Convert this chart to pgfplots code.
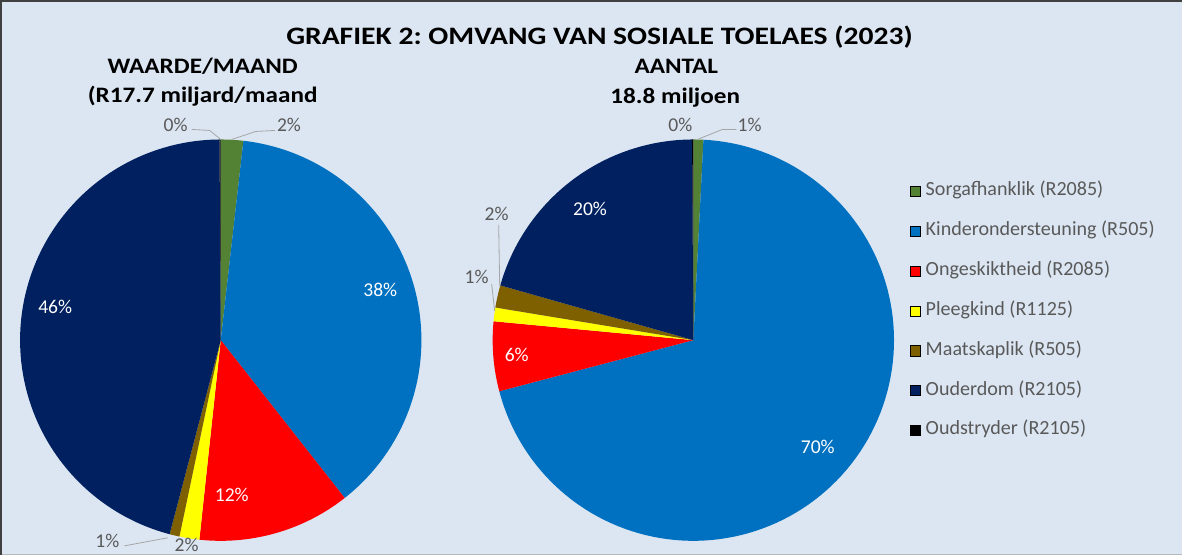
\documentclass[border=0pt]{standalone}
\usepackage{pgfplots}
\pgfplotsset{compat=1.18}
\usepackage{fontspec}
\setmainfont{Carlito}
\newfontfamily\titlefont[FakeStretch=1.18]{Carlito}
\newfontfamily\subfont[FakeStretch=1.14]{Carlito}

\definecolor{bg}{HTML}{DCE6F2}
\definecolor{cSorg}{HTML}{548235}
\definecolor{cKind}{HTML}{0070C0}
\definecolor{cOng}{HTML}{FF0000}
\definecolor{cPleeg}{HTML}{FFFF00}
\definecolor{cMaat}{HTML}{7F6000}
\definecolor{cOud}{HTML}{002060}
\definecolor{cStry}{HTML}{000000}
\definecolor{lbl}{HTML}{595959}
\definecolor{lead}{HTML}{A6A6A6}

\pgfplotsset{sq legend/.style={legend image code/.code={\fill[##1] (0pt,-5pt) rectangle (10pt,5pt);}}}

% pie slice: centre x, centre y, share in %, colour (radius 200)
\newcommand\cum{0}
\newcommand\slice[4]{%
  \pgfmathsetmacro\sliceA{\cum*3.6}%
  \pgfmathsetmacro\sliceSum{\cum+#3}%
  \pgfmathsetmacro\sliceB{\sliceSum*3.6}%
  \xdef\cum{\sliceSum}%
  \edef\doslice{\noexpand\addplot[fill=#4, draw=none, forget plot, domain=\sliceA:\sliceB, samples=120] ({#1+200*sin(\noexpand\x)},{#2-200*cos(\noexpand\x)}) -- (axis cs:#1,#2) -- cycle;}%
  \doslice}

\newcommand\pct{\fontsize{19.5}{22}\selectfont}
\frenchspacing

\begin{document}
\begin{tikzpicture}
\begin{axis}[
  width=1183pt, height=561pt, scale only axis,
  xmin=0, xmax=1183, ymin=0, ymax=561, y dir=reverse,
  axis lines=none, enlargelimits=false, clip=false,
  legend cell align=left,
  legend style={at={(axis cs:912,185)}, anchor=north west, draw=none, fill=none,
    inner sep=0pt, row sep=20.7pt, text=lbl,
    font=\fontsize{20}{23}\selectfont,
    nodes={inner sep=0pt, text height=14pt, text depth=5pt},
    /tikz/every odd column/.append style={column sep=5pt}},
]
% background and frame
\addplot[fill=bg, draw=none, forget plot] coordinates {(6,5) (1183,5) (1183,557) (6,557)} -- cycle;
\addplot[draw=gray!55, line width=1pt, forget plot] coordinates {(6,557) (1183,557)};
\addplot[draw=black!75, line width=2pt, forget plot] coordinates {(6,557) (6,5) (1183,5)};

% legend
\addlegendimage{sq legend, fill=cSorg}\addlegendentry{Sorgafhanklik (R2085)}
\addlegendimage{sq legend, fill=cKind}\addlegendentry{Kinderondersteuning (R505)}
\addlegendimage{sq legend, fill=cOng}\addlegendentry{Ongeskiktheid (R2085)}
\addlegendimage{sq legend, fill=cPleeg}\addlegendentry{Pleegkind (R1125)}
\addlegendimage{sq legend, fill=cMaat}\addlegendentry{Maatskaplik (R505)}
\addlegendimage{sq legend, fill=cOud}\addlegendentry{Ouderdom (R2105)}
\addlegendimage{sq legend, fill=cStry}\addlegendentry{Oudstryder (R2105)}

% left pie: waarde/maand (%)
\xdef\cum{0}
\slice{225}{343}{1.8}{cSorg}
\slice{225}{343}{37.6}{cKind}
\slice{225}{343}{12.3}{cOng}
\slice{225}{343}{1.6}{cPleeg}
\slice{225}{343}{0.8}{cMaat}
\slice{225}{343}{45.8}{cOud}
\slice{225}{343}{0.1}{cStry}

% right pie: aantal (%)
\xdef\cum{0}
\slice{696}{343}{0.8}{cSorg}
\slice{696}{343}{70.1}{cKind}
\slice{696}{343}{5.6}{cOng}
\slice{696}{343}{1.1}{cPleeg}
\slice{696}{343}{1.8}{cMaat}
\slice{696}{343}{20.5}{cOud}
\slice{696}{343}{0.1}{cStry}

% leader lines
\addplot[draw=lead, line width=0.8pt, forget plot] coordinates {(196,133) (214,134) (225,143)};
\addplot[draw=lead, line width=0.8pt, forget plot] coordinates {(279,134) (260,135) (236,143)};
\addplot[draw=lead, line width=0.8pt, forget plot] coordinates {(129,548) (172,540)};
\addplot[draw=lead, line width=0.8pt, forget plot] coordinates {(739,133) (725,133) (700,143)};
\addplot[draw=lead, line width=0.8pt, forget plot] coordinates {(502,228) (503,289)};
\addplot[draw=lead, line width=0.8pt, forget plot] coordinates {(495,287) (498,314)};

% titles
\node[anchor=base, inner sep=0pt] at (axis cs:602.5,48) {\titlefont\bfseries\fontsize{25}{30}\selectfont GRAFIEK 2: OMVANG VAN SOSIALE TOELAES (2023)};
\node[anchor=base, inner sep=0pt] at (axis cs:207,77) {\subfont\bfseries\fontsize{22}{26}\selectfont WAARDE/MAAND};
\node[anchor=base, inner sep=0pt] at (axis cs:207,106) {\subfont\bfseries\fontsize{22}{26}\selectfont (R17.7 miljard/maand};
\node[anchor=base, inner sep=0pt] at (axis cs:679,77) {\subfont\bfseries\fontsize{22}{26}\selectfont AANTAL};
\node[anchor=base, inner sep=0pt] at (axis cs:678,107) {\subfont\bfseries\fontsize{22}{26}\selectfont 18.8 miljoen};

% slice labels, left pie
\node[text=white, inner sep=0pt, font=\pct] at (axis cs:60,310) {46\%};
\node[text=white, inner sep=0pt, font=\pct] at (axis cs:384,293) {38\%};
\node[text=white, inner sep=0pt, font=\pct] at (axis cs:236,497) {12\%};
\node[text=lbl, inner sep=0pt, font=\pct] at (axis cs:180,128) {0\%};
\node[text=lbl, inner sep=0pt, font=\pct] at (axis cs:293,128) {2\%};
\node[text=lbl, inner sep=0pt, font=\pct] at (axis cs:112,543) {1\%};
\node[text=lbl, inner sep=0pt, font=\pct] at (axis cs:191,547) {2\%};

% slice labels, right pie
\node[text=white, inner sep=0pt, font=\pct] at (axis cs:593,212) {20\%};
\node[text=white, inner sep=0pt, font=\pct] at (axis cs:520,358) {6\%};
\node[text=white, inner sep=0pt, font=\pct] at (axis cs:820,449) {70\%};
\node[text=lbl, inner sep=0pt, font=\pct] at (axis cs:683,128) {0\%};
\node[text=lbl, inner sep=0pt, font=\pct] at (axis cs:752,128) {1\%};
\node[text=lbl, inner sep=0pt, font=\pct] at (axis cs:500,217) {2\%};
\node[text=lbl, inner sep=0pt, font=\pct] at (axis cs:480,280) {1\%};
\end{axis}
\end{tikzpicture}
\end{document}
